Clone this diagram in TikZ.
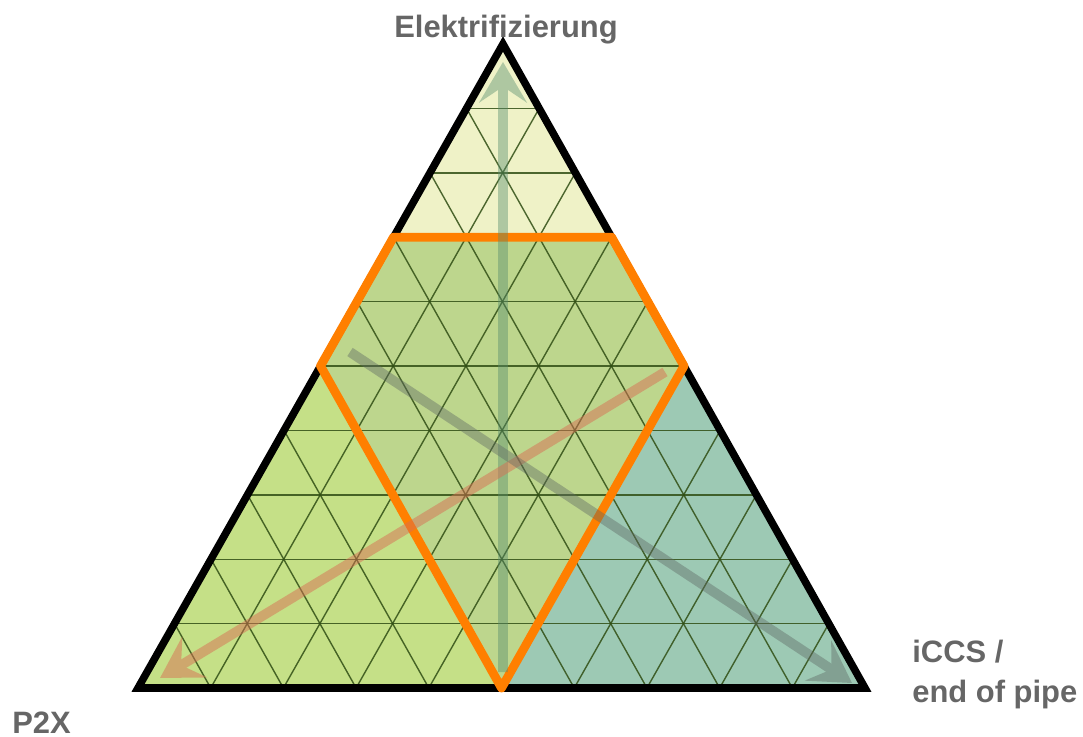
\documentclass[tikz,border=0pt]{standalone}
\usepackage{fontspec}
\setmainfont{Liberation Sans}
\usetikzlibrary{calc,arrows.meta}

\definecolor{topfill}{RGB}{239,242,199}
\definecolor{midfill}{RGB}{189,214,141}
\definecolor{leftfill}{RGB}{197,224,135}
\definecolor{rightfill}{RGB}{157,201,180}
\definecolor{gridline}{RGB}{48,78,20}
\definecolor{hexline}{RGB}{255,127,0}
\definecolor{labelgrey}{RGB}{102,102,102}
\definecolor{upcol}{RGB}{86,140,110}
\definecolor{p2xcol}{RGB}{215,112,85}
\definecolor{iccscol}{RGB}{95,105,100}

\begin{document}
\begin{tikzpicture}[
    x=0.02cm, y=-0.02cm,
    >={Stealth[length=23pt, width=27pt, inset=9pt]},
    gridrule/.style = {draw=gridline, draw opacity=0.85, line width=0.8pt},
    frame/.style    = {draw=black, line width=4.3pt},
    hexrim/.style   = {draw=hexline, line width=5pt, line join=round},
    trend/.style    = {->, line width=5.6pt},
    caption/.style  = {font=\fontsize{17.6}{22.7}\selectfont\bfseries,
                       text=labelgrey, inner sep=0pt}
]
\useasboundingbox (0,0) rectangle (1083,737);

% =========================================================
% CORNERS OF THE TRIANGLE
% =========================================================
\coordinate (elek) at (503,44);
\coordinate (p2x)  at (138,688);
\coordinate (iccs) at (865,688);

\coordinate (hl3) at ($(elek)!0.3!(p2x)$);
\coordinate (hr3) at ($(elek)!0.3!(iccs)$);
\coordinate (hl5) at ($(elek)!0.5!(p2x)$);
\coordinate (hr5) at ($(elek)!0.5!(iccs)$);
\coordinate (basemid) at ($(p2x)!0.5!(iccs)$);

% =========================================================
% REGIONS
% =========================================================
\fill[topfill]   (elek) -- (hl3) -- (hr3) -- cycle;
\fill[midfill]   (hl3) -- (hr3) -- (hr5) -- (basemid) -- (hl5) -- cycle;
\fill[leftfill]  (hl5) -- (p2x) -- (basemid) -- cycle;
\fill[rightfill] (hr5) -- (iccs) -- (basemid) -- cycle;

% =========================================================
% GRID
% =========================================================
\foreach \i in {1,...,9} {
  \draw[gridrule] ($(elek)!0.1*\i!(p2x)$) -- ($(elek)!0.1*\i!(iccs)$);
  \draw[gridrule] ($(p2x)!0.1*\i!(iccs)$) -- ($(elek)!0.1*\i!(iccs)$);
  \draw[gridrule] ($(p2x)!0.1*\i!(iccs)$) -- ($(p2x)!0.1*\i!(elek)$);
}

% =========================================================
% OUTLINES
% =========================================================
\draw[frame]  (elek) -- (p2x) -- (iccs) -- cycle;
\draw[hexrim] (hl3) -- (hr3) -- (hr5) -- (basemid) -- (hl5) -- cycle;

% =========================================================
% ARROWS
% =========================================================
\coordinate (upfrom)   at (503,672);
\coordinate (upto)     at (503,62);
\coordinate (p2xfrom)  at (665,372);
\coordinate (p2xto)    at (160,678);
\coordinate (iccsfrom) at (350,352);
\coordinate (iccsto)   at (852,683);

\begin{scope}[transparency group, opacity=0.42]
  \draw[trend, upcol] (upfrom) -- (upto);
\end{scope}
\begin{scope}[transparency group, opacity=0.5]
  \draw[trend, p2xcol] (p2xfrom) -- (p2xto);
\end{scope}
\begin{scope}[transparency group, opacity=0.42]
  \draw[trend, iccscol] (iccsfrom) -- (iccsto);
\end{scope}

% =========================================================
% LABELS
% =========================================================
\node[caption, anchor=base] (elekname) at (506,37) {Elektrifizierung};
\node[caption, anchor=base west, align=left] (iccsname) at (912,702)
  {iCCS /\\end of pipe};
\node[caption, anchor=base west] (p2xname) at (12,733) {P2X};

\end{tikzpicture}
\end{document}
